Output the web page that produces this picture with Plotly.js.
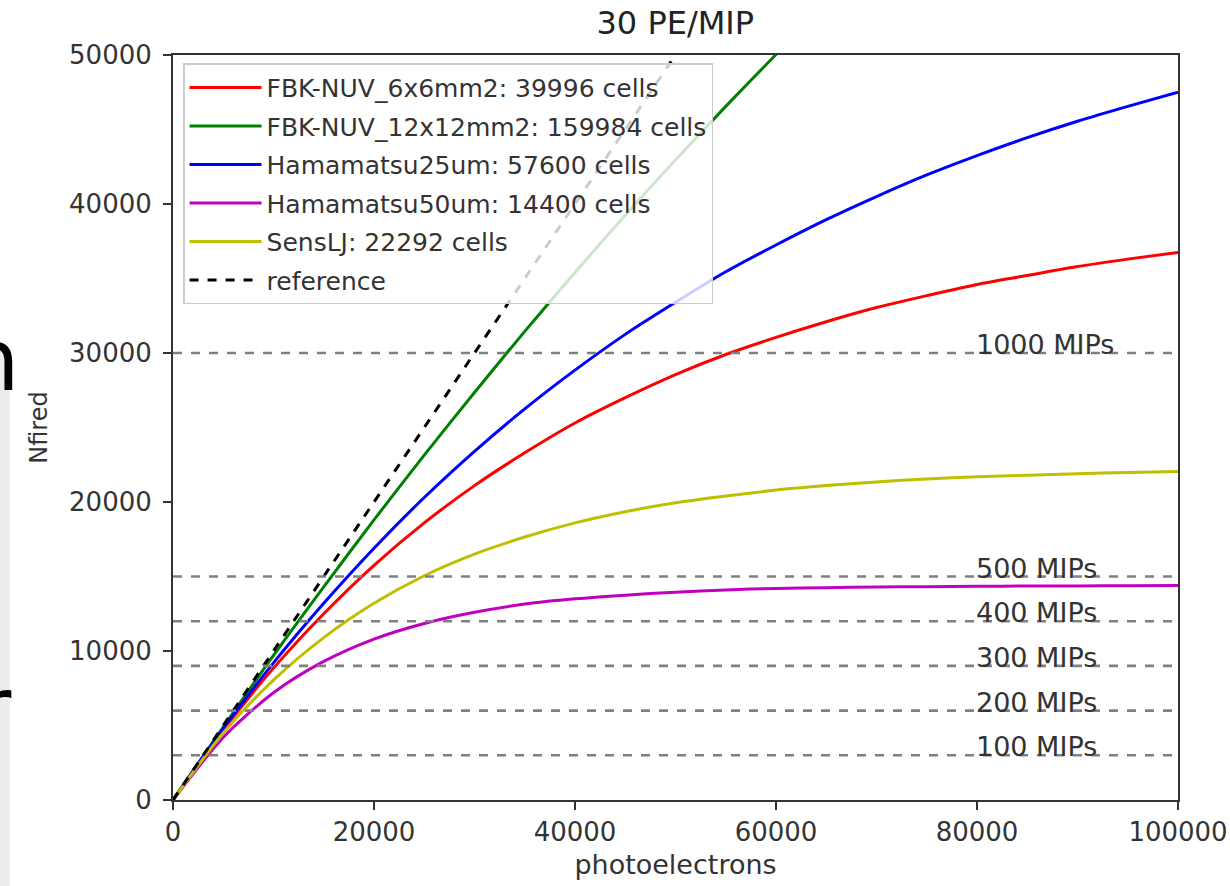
<!DOCTYPE html>
<html>
<head>
<meta charset="utf-8">
<script src="https://cdn.plot.ly/plotly-3.0.1.min.js"></script>
<style>html,body{margin:0;padding:0;background:#fff;}#chart{width:1230px;height:886px;}</style>
</head>
<body>
<div id="chart"></div>
<script>
// photoelectrons (x)
const xPE = [0,5000,10000,15000,20000,25000,30000,35000,40000,45000,50000,55000,60000,65000,70000,75000,80000,85000,90000,95000,100000];
// series values (Nfired)
const fbk6 = [0,4700,8850,12500,15750,18600,21100,23300,25300,27000,28550,29900,31050,32100,33050,33850,34600,35200,35800,36300,36750];
const xGreen = [0,5000,10000,15000,20000,25000,30000,35000,40000,45000,50000,55000,60000,65000];
const fbk12 = [0,4900,9700,14300,18800,23150,27350,31450,35400,39250,42950,46550,50030,53400];
const ham25 = [0,4800,9200,13200,16900,20300,23400,26250,28850,31250,33400,35450,37250,38950,40500,41950,43250,44450,45550,46550,47500];
const ham50 = [0,4200,7200,9300,10800,11850,12600,13150,13500,13750,13950,14100,14200,14250,14300,14320,14340,14360,14370,14380,14390];
const sensl = [0,4500,8050,10900,13200,15050,16500,17650,18600,19350,19950,20400,20800,21100,21350,21550,21700,21800,21900,21980,22050];
const refX = [0,50000];
const refY = [0,50000];
const seriesNames = ["FBK-NUV_6x6mm2: 39996 cells","FBK-NUV_12x12mm2: 159984 cells","Hamamatsu25um: 57600 cells","Hamamatsu50um: 14400 cells","SensLJ: 22292 cells","reference"];
const mipCounts = [100,200,300,400,500,1000];
const mipNfired = [3000,6000,9000,12000,15000,30000];
const mipLabels = ["100 MIPs","200 MIPs","300 MIPs","400 MIPs","500 MIPs","1000 MIPs"];
const mipLabelX = 80000;
const xRange = [0,100000];
const yRange = [0,50000];
const xTicks = [0,20000,40000,60000,80000,100000];
const yTicks = [0,10000,20000,30000,40000,50000];

const FONT = "DejaVu Sans, Liberation Sans, sans-serif";
const colors = ["#ff0000","#008000","#0000ff","#bf00bf","#bfbf00","#000000"];

const traces = [];
const ys = [fbk6, fbk12, ham25, ham50, sensl];
const xs = [xPE, xGreen, xPE, xPE, xPE];
for (let i = 0; i < 5; i++) {
  traces.push({x: xs[i], y: ys[i], mode: "lines", name: seriesNames[i], legendgroup: "g" + i,
    line: {color: colors[i], width: 3, shape: "spline", smoothing: 0.8}});
}
traces.push({x: refX, y: refY, mode: "lines", name: seriesNames[5], legendgroup: "g5",
  line: {color: "#000", width: 3, dash: "dash"}});
for (let i = 0; i < mipNfired.length; i++) {
  traces.push({x: xRange, y: [mipNfired[i], mipNfired[i]], mode: "lines", showlegend: false,
    hoverinfo: "skip", line: {color: "#808080", width: 2.6, dash: "dash"}});
}

const annotations = mipLabels.map((t, i) => ({
  x: mipLabelX, y: mipNfired[i], xref: "x", yref: "y", text: t, showarrow: false,
  xanchor: "left", yanchor: "bottom", yshift: -9, xshift: -3,
  font: {family: FONT, size: 27, color: "#333"}
}));
// clipped slide text at left edge
annotations.push({x: (22-173)/1005, y: (800-412)/745, xref: "paper", yref: "paper", text: "n",
  showarrow: false, xanchor: "right", yanchor: "bottom", font: {family: "DejaVu Sans, sans-serif", size: 86, color: "#000"}});
annotations.push({x: (14-173)/1005, y: (800-760)/745, xref: "paper", yref: "paper", text: "r",
  showarrow: false, xanchor: "right", yanchor: "bottom", font: {family: "DejaVu Sans, sans-serif", size: 86, color: "#000"}});

const axisCommon = {
  showline: true, mirror: true, linecolor: "#333", linewidth: 2,
  ticks: "outside", ticklen: 8, tickwidth: 1.5, tickcolor: "#333",
  showgrid: false, zeroline: false,
  tickfont: {family: FONT, size: 26, color: "#333"}
};

const layout = {
  width: 1230, height: 886,
  margin: {l: 173, r: 52, t: 55, b: 86},
  paper_bgcolor: "#fff", plot_bgcolor: "#fff",
  title: {text: "30 PE/MIP", x: 0.549, xanchor: "center", y: 1 - 23/886, yanchor: "middle",
    font: {family: FONT, size: 32, color: "#222"}},
  xaxis: Object.assign({}, axisCommon, {range: xRange, tickvals: xTicks, ticktext: xTicks.map(String),
    title: {text: "photoelectrons", standoff: 9, font: {family: FONT, size: 27, color: "#333"}}}),
  yaxis: Object.assign({}, axisCommon, {range: yRange, tickvals: yTicks, ticktext: yTicks.map(String),
    ticklabelstandoff: 6,
    title: {text: "Nfired", standoff: 15, font: {family: FONT, size: 24, color: "#333"}}}),
  legend: {x: 0.01, y: 0.989, xanchor: "left", yanchor: "top", bgcolor: "rgba(255,255,255,0.8)",
    bordercolor: "#ccc", borderwidth: 1.5, font: {family: FONT, size: 25, color: "#333"},
    tracegroupgap: 3, itemwidth: 72},
  showlegend: true,
  annotations: annotations,
  shapes: [{type: "rect", xref: "paper", yref: "paper", x0: -173/1005, x1: (10-173)/1005,
    y0: -86/745, y1: (800-350)/745, fillcolor: "#ececec", line: {width: 0}, layer: "below"}]
};

Plotly.newPlot("chart", traces, layout, {displayModeBar: false, staticPlot: true});
</script>
</body>
</html>
